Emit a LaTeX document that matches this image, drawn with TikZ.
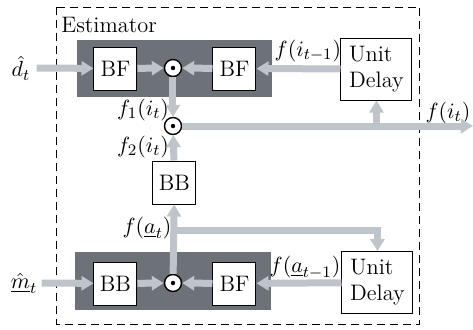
\documentclass[tikz,border=0pt]{standalone}
\usetikzlibrary{arrows.meta}
\definecolor{arr}{RGB}{190,196,202}
\definecolor{panel}{RGB}{108,114,120}
\begin{document}
\begin{tikzpicture}[x=0.5pt,y=-0.5pt,
  every node/.style={font=\fontsize{11.2}{13}\selectfont},
  blk/.style={draw,fill=white,line width=0.5pt,minimum width=21.5pt,minimum height=21.5pt,inner sep=0pt},
  delay/.style={draw,fill=white,line width=0.5pt,minimum width=35.5pt,minimum height=31pt,align=left,inner sep=2pt},
  mult/.style={circle,draw,fill=white,line width=0.7pt,minimum size=8.5pt,inner sep=0pt},
  flow/.style={draw=arr,line width=3.5pt,-{Triangle[length=6pt,width=7pt]}},
  lbl/.style={inner sep=0pt}]
\useasboundingbox (0,0) rectangle (473,329);
% panels
\fill[panel] (77,40) rectangle (272,97);
\fill[panel] (75,252) rectangle (271,310);
% estimator box
\draw[dash pattern=on 4pt off 2.5pt,line width=0.5pt] (57,7) rectangle (420,324);
\node[lbl,anchor=west] (est) at (61,25) {Estimator};
% blocks
\node[blk] (bf1) at (115.5,68.5) {BF};
\node[mult] (m1) at (173,68) {};
\node[blk] (bf2) at (234.5,68.5) {BF};
\node[delay] (ud1) at (376.5,69) {Unit\\Delay};
\node[mult] (m2) at (173,126) {};
\node[blk] (bb1) at (174.5,182.5) {BB};
\node[blk] (bb2) at (115.5,283.5) {BB};
\node[mult] (m3) at (173,283) {};
\node[blk] (bf3) at (234.5,283.5) {BF};
\node[delay] (ud2) at (377.5,282.5) {Unit\\Delay};
% dots
\foreach \m in {m1,m2,m3} \fill (\m) circle[radius=1.1pt];
% inputs
\node[lbl] (dl) at (21,68) {$\hat{d}_t$};
\node[lbl] (ml) at (24,283) {$\underline{\hat{m}}_t$};
% labels
\node[lbl] (l1) at (143,110) {$f_1(i_t)$};
\node[lbl] (l2) at (143,147) {$f_2(i_t)$};
\node[lbl] (la) at (147,228) {$f(\underline{a}_t)$};
\node[lbl] (li1) at (308,51) {$f(i_{t-1})$};
\node[lbl] (la1) at (305,268) {$f(\underline{a}_{t-1})$};
\node[lbl] (lit) at (448,113) {$f(i_t)$};
% coordinates
\coordinate (out) at (473,126);
\coordinate (br) at (173,230);
% flows
\draw[flow] (dl.east) ++(6,0) -- (bf1);
\draw[flow] (bf1) -- (m1);
\draw[flow] (bf2) -- (m1);
\draw[flow] (ud1) -- (bf2);
\draw[flow] (m1) -- (m2);
\draw[flow] (m2) -- (out);
\draw[flow] (ud1.south |- m2) -- (ud1.south);
\draw[flow] (bb1) -- (m2);
\draw[flow] (m3) -- (bb1);
\draw[flow] (br) -| (ud2.north);
\draw[flow] (ml.east) ++(4,0) -- (bb2);
\draw[flow] (bb2) -- (m3);
\draw[flow] (bf3) -- (m3);
\draw[flow] (ud2) -- (bf3);
\end{tikzpicture}
\end{document}
